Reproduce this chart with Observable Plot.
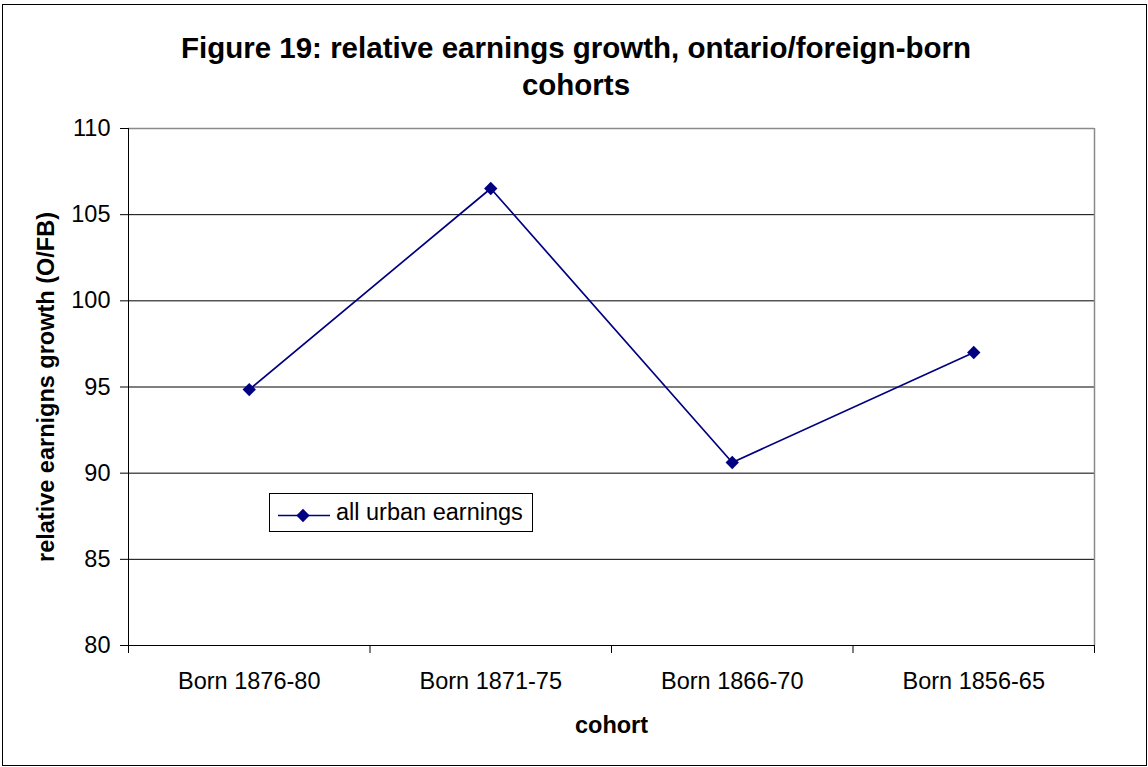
<!DOCTYPE html>
<html>
<head>
<meta charset="utf-8">
<script src="https://cdn.jsdelivr.net/npm/d3@7"></script>
<script src="https://cdn.jsdelivr.net/npm/@observablehq/plot@0.6"></script>
<style>
  html, body { margin: 0; padding: 0; background: #fff; }
  #chart { position: relative; width: 1148px; height: 767px; font-family: "Liberation Sans", Arial, sans-serif; overflow: hidden; }
  #border { position: absolute; left: 2px; top: 4px; width: 1145px; height: 762px; box-sizing: border-box; border: 1px solid #000; }
  #title { position: absolute; left: 0; top: 29px; width: 1152px; text-align: center; font-weight: bold; font-size: 29.5px; line-height: 37px; color: #000; }
  #plot { position: absolute; left: 0; top: 110px; }
  #legend { position: absolute; left: 269px; top: 493px; width: 264px; height: 39px; box-sizing: border-box; border: 1px solid #000; background: #fff; }
  #legend svg { position: absolute; left: 0; top: 0; }
  #legend .lab { position: absolute; left: 66px; top: 6.8px; font-size: 23.5px; line-height: 1; white-space: nowrap; color: #000; }
</style>
</head>
<body>
<div id="chart">
  <div id="border"></div>
  <div id="title">Figure 19: relative earnings growth, ontario/foreign-born<br>cohorts</div>
  <div id="plot"></div>
  <div id="legend"></div>
</div>
<script>
const categories = ["Born 1876-80", "Born 1871-75", "Born 1866-70", "Born 1856-65"];
const values = [94.85, 106.52, 90.62, 97.0];
const yTicks = [80, 85, 90, 95, 100, 105, 110];
const seriesName = "all urban earnings";
const yLabel = "relative earnigns growth (O/FB)";
const xLabel = "cohort";

const lineColor = "#000080";
const data = categories.map((c, i) => ({category: c, pos: i + 0.5, value: values[i]}));
const boundaries = d3.range(categories.length + 1);

const chart = Plot.plot({
  width: 1148,
  height: 657,
  marginTop: 18,
  marginBottom: 122,
  marginLeft: 128,
  marginRight: 54,
  style: {fontFamily: "'Liberation Sans', Arial, sans-serif", fontSize: "23.5px", background: "transparent", color: "#000", overflow: "visible"},
  x: {domain: [0, categories.length]},
  y: {domain: [80, 110]},
  marks: [
    Plot.gridY(yTicks.filter(v => v > 80 && v < 110), {stroke: "#000", strokeOpacity: 1, strokeWidth: 1}),
    Plot.ruleY([110], {stroke: "#8a8a8a", strokeWidth: 1.5}),
    Plot.ruleX([categories.length], {stroke: "#8a8a8a", strokeWidth: 1.5}),
    Plot.ruleX([0], {stroke: "#000", strokeWidth: 1}),
    Plot.ruleY([80], {stroke: "#000", strokeWidth: 1}),
    Plot.axisY({ticks: yTicks, tickSize: 8, tickPadding: 10, tickFormat: d => String(d), label: null, fontSize: 23.5}),
    Plot.axisX({ticks: boundaries, tickSize: 8, tickFormat: () => "", label: null}),
    Plot.axisX({ticks: data.map(d => d.pos), tickSize: 0, tickPadding: 26.5, tickFormat: v => categories[Math.floor(v)], label: null, fontSize: 23.5}),
    Plot.line(data, {x: "pos", y: "value", stroke: lineColor, strokeWidth: 1.7}),
    Plot.dot(data, {x: "pos", y: "value", symbol: "diamond2", r: 6, fill: lineColor, stroke: "none"}),
    Plot.text([yLabel], {frameAnchor: "left", textAnchor: "middle", lineAnchor: "middle", dx: -82.5, rotate: -90, fontWeight: "bold", fontSize: 23.5, fill: "#000"}),
    Plot.text([xLabel], {frameAnchor: "bottom", textAnchor: "middle", lineAnchor: "middle", dy: 79.5, fontWeight: "bold", fontSize: 23.5, fill: "#000"})
  ]
});
document.getElementById("plot").appendChild(chart);

// legend
const legend = document.getElementById("legend");
const ns = "http://www.w3.org/2000/svg";
const svg = document.createElementNS(ns, "svg");
svg.setAttribute("width", 64);
svg.setAttribute("height", 37);
const ln = document.createElementNS(ns, "line");
ln.setAttribute("x1", 8); ln.setAttribute("x2", 60);
ln.setAttribute("y1", 21.5); ln.setAttribute("y2", 21.5);
ln.setAttribute("stroke", lineColor); ln.setAttribute("stroke-width", 1.7);
svg.appendChild(ln);
const sym = document.createElementNS(ns, "path");
sym.setAttribute("d", d3.symbol(d3.symbolDiamond2, Math.PI * 6 * 6)());
sym.setAttribute("transform", "translate(33,21.5)");
sym.setAttribute("fill", lineColor);
svg.appendChild(sym);
legend.appendChild(svg);
const lab = document.createElement("div");
lab.className = "lab";
lab.textContent = seriesName;
legend.appendChild(lab);
</script>
</body>
</html>
